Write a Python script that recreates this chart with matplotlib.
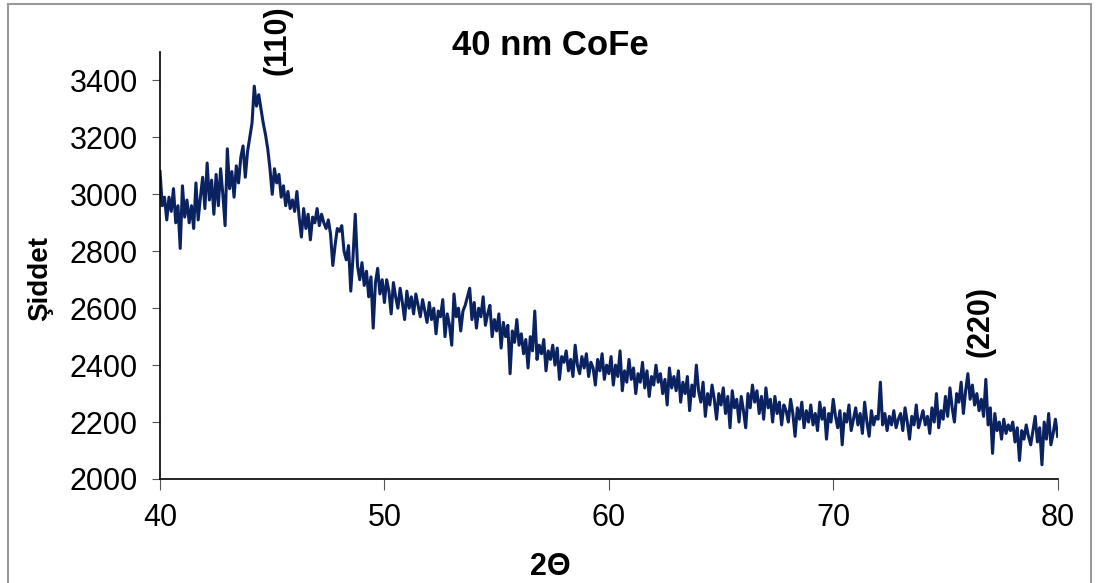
import numpy as np
import matplotlib
matplotlib.use('Agg')
import matplotlib.pyplot as plt
from matplotlib.patches import Rectangle

# 2-theta scan 40..80 deg, step 0.1
two_theta = np.round(np.arange(400, 801) * 0.1, 1)

# intensity, one row per degree
intensity = [
    3080, 2960, 2990, 2910, 2990, 2940, 3020, 2900, 2960, 2810,
    3030, 2920, 2980, 2900, 2960, 2880, 3040, 2910, 2990, 3060,
    2950, 3110, 2980, 3050, 2930, 3070, 2960, 3090, 3000, 2890,
    3160, 3020, 3080, 2990, 3100, 3040, 3130, 3170, 3060, 3150,
    3200, 3250, 3380, 3310, 3350, 3300, 3250, 3210, 3160, 3090,
    3000, 3090, 3040, 3070, 2990, 3030, 2960, 3010, 2950, 2980,
    2940, 3010, 2920, 2850, 2950, 2880, 2930, 2840, 2920, 2900,
    2950, 2890, 2930, 2900, 2880, 2910, 2860, 2750, 2820, 2880,
    2870, 2890, 2800, 2770, 2820, 2660, 2780, 2930, 2750, 2700,
    2760, 2680, 2730, 2640, 2710, 2530, 2690, 2740, 2650, 2700,
    2620, 2700, 2660, 2580, 2690, 2640, 2600, 2670, 2620, 2560,
    2660, 2600, 2640, 2580, 2650, 2610, 2570, 2630, 2590, 2550,
    2620, 2560, 2600, 2510, 2590, 2570, 2630, 2500, 2580, 2540,
    2470, 2650, 2570, 2600, 2520, 2590, 2610, 2640, 2670, 2560,
    2620, 2530, 2600, 2570, 2640, 2540, 2580, 2610, 2500, 2560,
    2520, 2580, 2460, 2550, 2500, 2540, 2370, 2520, 2480, 2560,
    2470, 2510, 2440, 2490, 2390, 2500, 2450, 2590, 2420, 2470,
    2440, 2490, 2380, 2450, 2420, 2470, 2400, 2460, 2350, 2430,
    2410, 2450, 2380, 2420, 2360, 2470, 2400, 2370, 2430, 2390,
    2440, 2360, 2410, 2390, 2330, 2420, 2380, 2440, 2350, 2400,
    2370, 2430, 2330, 2400, 2360, 2450, 2310, 2380, 2340, 2420,
    2350, 2390, 2300, 2370, 2340, 2410, 2320, 2380, 2290, 2360,
    2330, 2400, 2340, 2370, 2300, 2350, 2260, 2390, 2320, 2360,
    2310, 2380, 2270, 2340, 2300, 2360, 2240, 2330, 2290, 2400,
    2310, 2270, 2340, 2220, 2300, 2260, 2330, 2280, 2210, 2300,
    2260, 2320, 2230, 2290, 2180, 2310, 2250, 2280, 2200, 2290,
    2240, 2180, 2300, 2250, 2330, 2270, 2310, 2230, 2290, 2210,
    2320, 2250, 2280, 2200, 2290, 2230, 2270, 2190, 2260, 2240,
    2200, 2280, 2230, 2150, 2250, 2210, 2270, 2180, 2240, 2200,
    2260, 2190, 2230, 2170, 2270, 2210, 2250, 2140, 2230, 2200,
    2280, 2220, 2180, 2240, 2120, 2230, 2200, 2260, 2170, 2210,
    2250, 2190, 2230, 2160, 2270, 2200, 2150, 2240, 2190, 2220,
    2210, 2340, 2190, 2230, 2170, 2220, 2190, 2240, 2180, 2210,
    2230, 2170, 2250, 2200, 2140, 2220, 2190, 2260, 2180, 2210,
    2240, 2190, 2220, 2160, 2250, 2200, 2300, 2180, 2240, 2210,
    2290, 2220, 2320, 2250, 2200, 2300, 2270, 2340, 2230, 2310,
    2370, 2280, 2330, 2260, 2300, 2240, 2280, 2220, 2350, 2190,
    2250, 2090, 2230, 2170, 2200, 2140, 2210, 2160, 2190, 2170,
    2200, 2130, 2180, 2065, 2170, 2140, 2190, 2150, 2120, 2170,
    2220, 2130, 2180, 2050, 2200, 2140, 2230, 2120, 2160, 2210,
    2150,
]

x_ticks = [40, 50, 60, 70, 80]
y_ticks = [2000, 2200, 2400, 2600, 2800, 3000, 3200, 3400]
peaks = [('(110)', 45.25, 3540), ('(220)', 76.55, 2555)]

plt.rcParams['font.family'] = ['Liberation Sans', 'DejaVu Sans']

fig = plt.figure(figsize=(10.96, 5.83), dpi=100)
ax = fig.add_axes([0.146, 0.1784, 0.819, 0.7324])

ax.plot(two_theta, intensity, color='#0a2260', lw=2.2, solid_joinstyle='round')

ax.set_xlim(40, 80)
ax.set_ylim(2000, 3500)
ax.set_xticks(x_ticks)
ax.set_yticks(y_ticks)
ax.tick_params(axis='both', labelsize=22, direction='out', color='#555555')
ax.tick_params(axis='x', length=8, pad=9)
ax.tick_params(axis='y', length=6, pad=10)
for s in ['top', 'right']:
    ax.spines[s].set_visible(False)
for s in ['left', 'bottom']:
    ax.spines[s].set_linewidth(1.2)

ax.set_xlabel('2Θ', fontsize=22, fontweight='bold')
ax.xaxis.set_label_coords(0.435, -0.17)
ax.set_ylabel('Şiddet', fontsize=20, fontweight='bold')
ax.yaxis.set_label_coords(-0.119, 0.47)

fig.text(0.502, 0.893, '40 nm CoFe', fontsize=25, fontweight='bold',
         ha='center', va='bottom')

for label, xp, yp in peaks:
    ax.text(xp, yp, label, rotation=90, fontsize=22, fontweight='bold',
            ha='center', va='center', clip_on=False)

fig.patches.append(Rectangle((0.007, -0.01), 0.988, 1.003, transform=fig.transFigure,
                             fill=False, edgecolor='#999999', lw=1.5))

fig.savefig('out.png', dpi=100)
